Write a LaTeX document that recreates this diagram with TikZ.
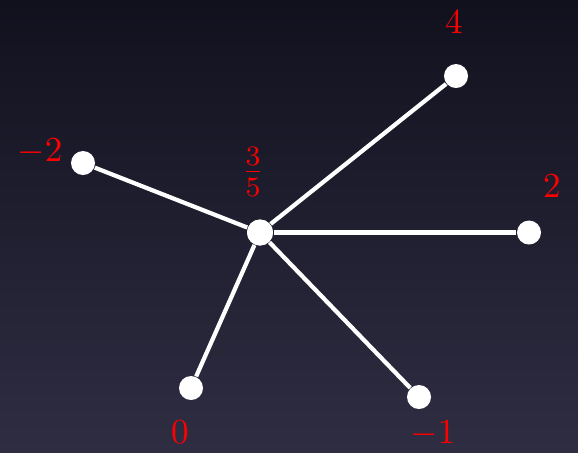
\documentclass[tikz,border=0pt]{standalone}
\definecolor{bgtop}{HTML}{11111E}
\definecolor{bgbottom}{HTML}{2F2D42}
\tikzset{
  vert/.style={circle, fill=white, inner sep=0pt, minimum size=0.24cm},
  lab/.style={text=red, inner sep=0pt},
  edge/.style={white, line width=1.2pt}
}
\begin{document}
\begin{tikzpicture}
    % Background
    \shade[top color=bgtop, bottom color=bgbottom] (0,0) rectangle (5.78,4.52);
    \useasboundingbox (0,0) rectangle (5.78,4.52);

    % Vertices
    \node[vert, minimum size=0.26cm] (c) at (2.60, 2.195) {};
    \node[vert] (v4) at (4.56, 3.76) {};
    \node[vert] (vm2) at (0.83, 2.89) {};
    \node[vert] (v2) at (5.29, 2.195) {};
    \node[vert] (v0) at (1.91, 0.64) {};
    \node[vert] (vm1) at (4.19, 0.55) {};

    % Edges
    \foreach \v in {v4, vm2, v2, v0, vm1}
        \draw[edge] (c) -- (\v);
    \node[vert, minimum size=0.26cm] at (c) {};

    % Labels
    \node[lab, font=\large] (lc) at (2.53, 2.80) {$\frac{3}{5}$};
    \node[lab] (l4) at (4.54, 4.30) {$4$};
    \node[lab] (lm2) at (0.40, 3.00) {$-2$};
    \node[lab] (l2) at (5.52, 2.66) {$2$};
    \node[lab] (l0) at (1.80, 0.20) {$0$};
    \node[lab] (lm1) at (4.33, 0.18) {$-1$};
\end{tikzpicture}
\end{document}
